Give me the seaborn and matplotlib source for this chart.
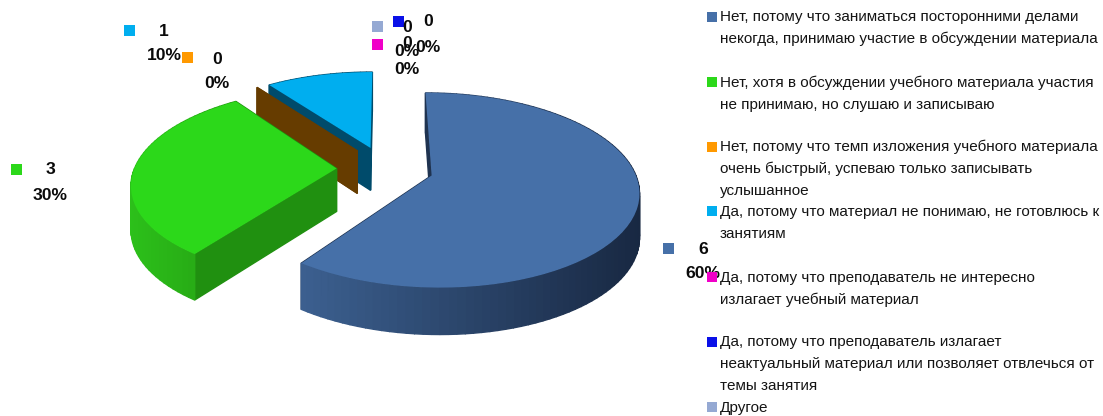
import numpy as np
import matplotlib
matplotlib.use("Agg")
import matplotlib.pyplot as plt
from matplotlib.patches import Rectangle
from matplotlib.colors import to_rgb
from matplotlib.transforms import Transform
import seaborn as sns

legend_labels = [
    "Нет, потому что заниматься посторонними делами\nнекогда, принимаю участие в обсуждении материала",
    "Нет, хотя в обсуждении учебного материала участия\nне принимаю, но слушаю и записываю",
    "Нет, потому что темп изложения учебного материала\nочень быстрый, успеваю только записывать\nуслышанное",
    "Да, потому что материал не понимаю, не готовлюсь к\nзанятиям",
    "Да, потому что преподаватель не интересно\nизлагает учебный материал",
    "Да, потому что преподаватель излагает\nнеактуальный материал или позволяет отвлечься от\nтемы занятия",
    "Другое",
]
counts = [6, 3, 0, 1, 0, 0, 0]
percents = ["60%", "30%", "0%", "10%", "0%", "0%", "0%"]

top_colors = ["#4670A8", "#2CD81A", "#FF9900", "#00AEEF", "#F000C8", "#0A10E8", "#95A9D3"]
wall_colors = ["#1F3350", "#209010", "#663C00", "#004B6B", "#700060", "#050870", "#4A5570"]
arc_left = ["#3C6090", "#2CC01A", "#663C00", "#005A80", "#700060", "#050870", "#4A5570"]
arc_right = ["#182842", "#25A013", "#663C00", "#004B6B", "#700060", "#050870", "#4A5570"]

sns.set_theme(style="white")
plt.rcParams["font.family"] = ["Liberation Sans", "DejaVu Sans"]

CX, CY, RX, RY, K, DEPTH = 385.0, 168.5, 202.0, 93.0, 0.15, 43.0


def project(xy):
    xy = np.asarray(xy, dtype=float)
    s = 1.0 / (1.0 + K * xy[..., 1])
    return np.stack([CX + RX * xy[..., 0] * s, CY - RY * xy[..., 1] * s], axis=-1)


def drop(xy):
    xy = np.asarray(xy, dtype=float)
    s = 1.0 / (1.0 + K * xy[..., 1])
    out = project(xy)
    out[..., 1] += DEPTH * np.sqrt(s)
    return out


def area(poly):
    x, y = poly[:, 0], poly[:, 1]
    return 0.5 * abs(np.dot(x, np.roll(y, 1)) - np.dot(y, np.roll(x, 1)))


class Perspective(Transform):
    input_dims = 2
    output_dims = 2
    is_separable = False
    has_inverse = False

    def transform_non_affine(self, values):
        return project(values)


fig = plt.figure(figsize=(11.03, 4.16), dpi=100)
ax = fig.add_axes([0, 0, 1, 1])
wedges, _ = ax.pie(
    counts,
    colors=sns.color_palette(top_colors),
    startangle=90,
    counterclock=False,
    explode=[0.24] * len(counts),
    wedgeprops={"linewidth": 0},
)
ax.set_aspect("auto")
ax.set_xlim(0, 1103)
ax.set_ylim(416, 0)
ax.set_autoscale_on(False)
ax.axis("off")

draw_order = [6, 5, 4, 3, 2, 1, 0]
z = 2
for idx in draw_order:
    w = wedges[idx]
    c = np.array(w.center)
    t1, t2 = np.radians(w.theta1), np.radians(w.theta2)
    faces = []
    for t in (t1, t2):
        rim = c + np.array([np.cos(t), np.sin(t)])
        plane = np.array([c, rim])
        poly = np.vstack([project(plane), drop(plane)[::-1]])
        if area(poly) > 1:
            faces.append((plane[:, 1].mean(), poly, wall_colors[idx]))
    if t2 > t1:
        th = np.linspace(t1, t2, max(2, int((t2 - t1) / np.radians(2)) + 1))
        rim = c + np.stack([np.cos(th), np.sin(th)], axis=1)
        top_px = project(rim)
        low_px = drop(rim)
        x0, x1 = top_px[:, 0].min(), top_px[:, 0].max()
        a, b = np.array(to_rgb(arc_left[idx])), np.array(to_rgb(arc_right[idx]))
        for i in range(len(th) - 1):
            poly = np.array([top_px[i], top_px[i + 1], low_px[i + 1], low_px[i]])
            f = (poly[:, 0].mean() - x0) / max(x1 - x0, 1)
            faces.append(((rim[i, 1] + rim[i + 1, 1]) / 2, poly, tuple(a + (b - a) * f)))
    for _, poly, col in sorted(faces, key=lambda q: -q[0]):
        ax.fill(poly[:, 0], poly[:, 1], color=col, lw=1.0, zorder=z)
        z += 1
    w.set_transform(Perspective() + ax.transData)
    w.set_zorder(z)
    z += 1

# data labels: key square, count and share
label_sq = [(663, 243), (11, 164), (182, 52), (124, 25), (372, 39), (393, 16), (372, 21)]
label_xy = [(703, 249, 274), (50, 170, 196), (217, 59, 84), (164, 31, 56),
            (407, 43, 70), (428, 22, 47), (407, 27, 52)]
top_z = z + 10
for i, count in enumerate(counts):
    ax.add_patch(Rectangle(label_sq[i], 11, 11, color=top_colors[i], lw=0, zorder=top_z))
    x, y1, y2 = label_xy[i]
    for y, txt in ((y1, str(count)), (y2, percents[i])):
        ax.text(x, y, txt, ha="center", va="center", fontsize=12.6, fontweight="bold",
                color="#0a0a0a", zorder=top_z)

# legend
legend_sq_y = [12, 76.5, 141.5, 206, 272, 337, 402]
legend_line_y = [17, 83, 147, 212, 278, 342, 408]
for i, lab in enumerate(legend_labels):
    ax.add_patch(Rectangle((707, legend_sq_y[i]), 10, 10, color=top_colors[i], lw=0, zorder=top_z + 1))
    for j, line in enumerate(lab.split("\n")):
        ax.text(720, legend_line_y[i] + 22 * j, line, ha="left", va="center",
                fontsize=10.98, color="#141414", zorder=top_z)

fig.savefig("out.png", dpi=100)
